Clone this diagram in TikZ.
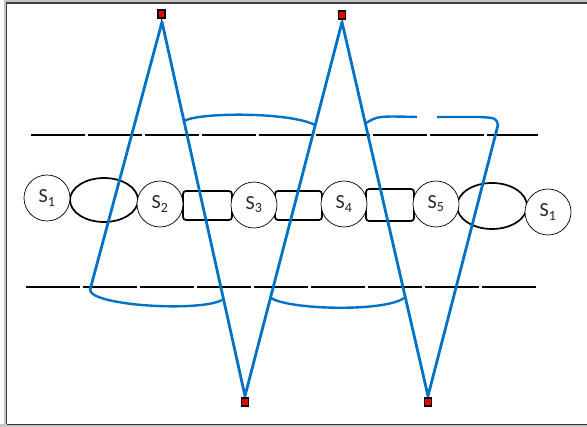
\documentclass[tikz,border=0pt]{standalone}
\usepackage{fontspec}
\setmainfont{Carlito}
\definecolor{wireblue}{RGB}{0,114,198}
\definecolor{sqred}{RGB}{230,0,0}
\definecolor{txt}{RGB}{45,35,30}
\begin{document}
\begin{tikzpicture}[x=1pt,y=-1pt,
  state/.style={circle,draw=black,line width=0.7pt,minimum size=46pt,inner sep=0pt,font=\fontsize{20}{20}\selectfont,text=txt,fill=white},
  linkshape/.style={draw=black,line width=1.7pt},
  guide/.style={draw=black,line width=1.2pt,dash pattern=on 54pt off 3pt},
  wire/.style={draw=wireblue,line width=2.8pt,line join=round},
  pin/.style={draw=black,fill=sqred,line width=1.2pt,minimum width=7pt,minimum height=8pt,inner sep=0pt}]
\useasboundingbox (0,0) rectangle (587,427);
% frame
\draw[gray!45,line width=3pt] (5,430) -- (5,1.5) -- (592,1.5);
\draw[black!75,line width=1.4pt] (6.5,430) -- (6.5,3) -- (592,3);
\draw[gray!45,line width=3pt] (0,425.5) -- (592,425.5);
\draw[black!80,line width=1.4pt] (6.5,424.5) -- (592,424.5);
% guide lines
\draw[guide] (31,135) -- (538,135);
\draw[guide] (26,287) -- (537,287);
% links between states
\draw[linkshape] (104,200) ellipse [x radius=34, y radius=22];
\draw[linkshape,rounded corners=3pt] (183,191) rectangle (232,220);
\draw[linkshape,rounded corners=3pt] (275,191) rectangle (322,220);
\draw[linkshape,rounded corners=3pt] (366,189) rectangle (414,221);
\draw[linkshape] (492,206) ellipse [x radius=35, y radius=23];
% states
\node[state] (s1) at (47,198) {S\textsubscript{1}};
\node[state] (s2) at (160,204) {S\textsubscript{2}};
\node[state] (s3) at (254,205) {S\textsubscript{3}};
\node[state] (s4) at (344,204) {S\textsubscript{4}};
\node[state] (s5) at (436,204) {S\textsubscript{5}};
\node[state] (s6) at (548,212) {S\textsubscript{1}};
% pins
\node[pin] (t1) at (161.5,14) {};
\node[pin] (t2) at (342,15) {};
\node[pin] (b1) at (245,402) {};
\node[pin] (b2) at (428,402) {};
% wire coordinates
\coordinate (p0) at (90,290);
\coordinate (a1) at (162,22);
\coordinate (v1) at (245,396);
\coordinate (a2) at (342,22);
\coordinate (v2) at (428,396);
\coordinate (p5) at (498,125);
\coordinate (u1) at (184,121);
\coordinate (u2) at (315,125);
\coordinate (u3) at (366,123);
\coordinate (u4) at (417,117);
\coordinate (u5) at (437,117);
\coordinate (l1) at (222,300);
\coordinate (l2) at (271,298);
\coordinate (l3) at (404,298);
\draw[black,line width=1pt] (t1.south) -- (a1);
\draw[black,line width=1pt] (t2.south) -- (a2);
\draw[black,line width=1pt] (b1.north) -- (v1);
\draw[black,line width=1pt] (b2.north) -- (v2);
% wires
\draw[wire] (p0) -- (a1) -- (v1) -- (a2) -- (v2) -- (p5);
\draw[wire,line width=2.4pt] (u1) .. controls (200,112) and (290,112) .. (u2);
\draw[wire,line width=2.4pt] (u3) .. controls (378,116) .. (u4);
\draw[wire,line width=2.4pt] (u5) -- (480,117) .. controls (496,118) .. (p5);
\draw[wire,line width=2.4pt] (p0) .. controls (92,306) and (200,312) .. (l1);
\draw[wire,line width=2.4pt] (l2) .. controls (290,310) and (385,312) .. (l3);
\end{tikzpicture}
\end{document}
